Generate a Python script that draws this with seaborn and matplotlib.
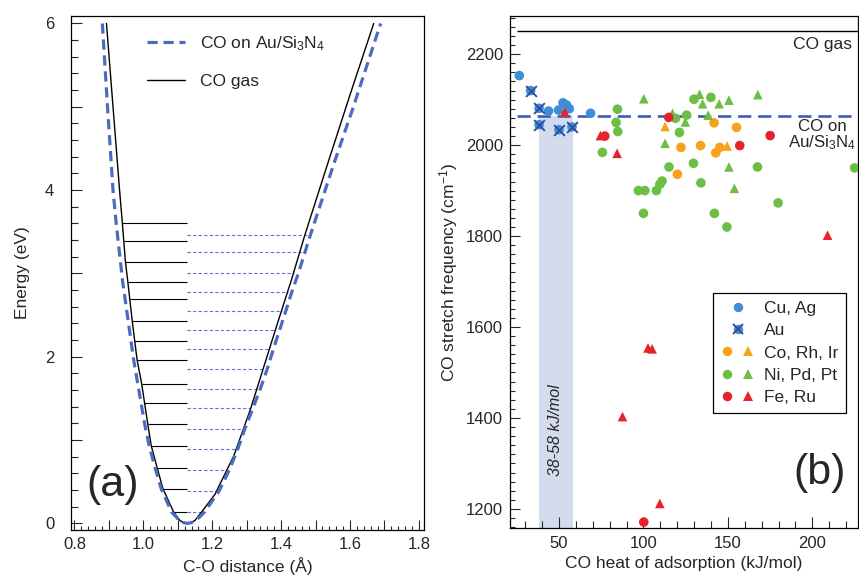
import numpy as np
import pandas as pd
import matplotlib
matplotlib.use("Agg")
import matplotlib.pyplot as plt
import seaborn as sns
from matplotlib.ticker import MultipleLocator, FuncFormatter
from matplotlib.lines import Line2D
from matplotlib.legend_handler import HandlerTuple

# ---------------- data: panel (a) potential curves ----------------
gas_r = [0.893, 0.912, 0.931, 0.939, 0.948, 0.955, 0.968, 0.982, 0.995, 1.013, 1.023,
         1.040, 1.057, 1.088, 1.106, 1.117, 1.128, 1.139, 1.150, 1.170, 1.208, 1.2625,
         1.311, 1.352, 1.390, 1.4305, 1.469, 1.533, 1.602, 1.669]
gas_E = [6.0, 5.0, 4.0, 3.61, 3.14, 2.90, 2.42, 1.96, 1.68, 1.19, 0.93,
         0.67, 0.415, 0.136, 0.035, 0.008, 0.0, 0.008, 0.035, 0.14, 0.348, 0.808,
         1.368, 1.908, 2.407, 2.928, 3.46, 4.288, 5.167, 6.0]

ads_r = [0.881, 0.896, 0.912, 0.921, 0.940, 0.972, 1.004, 1.017, 1.034, 1.052, 1.082,
         1.106, 1.117, 1.128, 1.139, 1.152, 1.178, 1.220, 1.249, 1.274, 1.295, 1.318,
         1.340, 1.360, 1.378, 1.396, 1.414, 1.431, 1.450, 1.485, 1.552, 1.610, 1.689]
ads_E = [6.0, 5.0, 4.0, 3.61, 2.90, 1.96, 1.19, 0.93, 0.67, 0.415, 0.136,
         0.03, 0.008, 0.0, 0.008, 0.03, 0.136, 0.388, 0.636, 0.888, 1.136, 1.38,
         1.616, 1.856, 2.096, 2.324, 2.552, 2.776, 3.0, 3.46, 4.3, 5.0, 6.0]

# vibrational levels
gas_level_E = [0.136, 0.415, 0.667, 0.928, 1.188, 1.44, 1.676, 1.96, 2.188, 2.424,
               2.692, 2.90, 3.14, 3.388, 3.607]
gas_level_rmin = [1.088, 1.057, 1.040, 1.023, 1.013, 1.001, 0.995, 0.982, 0.974, 0.968,
                  0.961, 0.955, 0.948, 0.9435, 0.939]
level_split_r = 1.128
ads_level_E = [0.136, 0.388, 0.636, 0.888, 1.136, 1.38, 1.616, 1.856, 2.096, 2.324,
               2.552, 2.776, 3.0, 3.256, 3.46]
ads_level_rmax = [1.173, 1.214, 1.243, 1.267, 1.286, 1.309, 1.330, 1.349, 1.367, 1.385,
                  1.404, 1.419, 1.437, 1.462, 1.478]

# ---------------- data: panel (b) scatter ----------------
cuag_x = [26.5, 43.8, 49.7, 52.4, 54.5, 56.1, 68.7]
cuag_y = [2153, 2075, 2077, 2093, 2088, 2080, 2070]
au_x = [33.2, 38.2, 38.2, 50.0, 57.7]
au_y = [2120, 2081, 2045, 2034, 2040]
co_circ_x = [120.1, 122.2, 141.8, 155.1, 133.8, 142.8, 145.2]
co_circ_y = [1936, 1995, 2049, 2039, 1999, 1983, 1995]
co_tri_x = [112.8, 149.5]
co_tri_y = [2041, 1998]
ni_circ_x = [75.7, 84.6, 83.8, 84.8, 97.0, 100.8, 100.0, 107.7, 109.7, 111.0, 115.1, 121.3,
             119.0, 125.5, 129.6, 129.9, 139.9, 134.0, 142.0, 149.4, 167.5, 179.7, 225.0]
ni_circ_y = [1984, 2079, 2050, 2030, 1900, 1900, 1850, 1900, 1914, 1921, 1952, 2028,
             2059, 2066, 1960, 2101, 2105, 1917, 1850, 1820, 1952, 1873, 1950]
ni_tri_x = [100.2, 112.8, 117.2, 124.8, 133.2, 135.0, 138.3, 144.8, 150.6, 150.6, 153.8, 167.7]
ni_tri_y = [2102, 2004, 2070, 2051, 2112, 2091, 2066, 2091, 2099, 1952, 1905, 2111]
fe_circ_x = [77.1, 115.0, 157.0, 175.0, 100.2]
fe_circ_y = [2020, 2061, 1999, 2021, 1171]
fe_tri_x = [53.4, 74.5, 84.4, 102.7, 105.1, 87.6, 109.7, 209.0]
fe_tri_y = [2073, 2021, 1982, 1554, 1552, 1403, 1212, 1802]

gas_freq = 2250
ads_freq = 2064
au_range = [38, 58]
legend_labels = ["Cu, Ag", "Au", "Co, Rh, Ir", "Ni, Pd, Pt", "Fe, Ru"]

# ---------------- style ----------------
sns.set_theme(style="ticks")
plt.rcParams["font.family"] = ["Liberation Sans", "DejaVu Sans"]
plt.rcParams["mathtext.fontset"] = "custom"
plt.rcParams["mathtext.rm"] = "Liberation Sans"
plt.rcParams["mathtext.it"] = "Liberation Sans:italic"

c_blue_curve = "#4a6cc0"
c_dash = "#3d5db4"
c_cu = "#3f8dd6"
c_au = "#2f4fa0"
c_or = "#f8a21c"
c_gr = "#6cbf44"
c_rd = "#e8222b"
c_shade = "#d4dbef"

fig = plt.figure(figsize=(8.59, 5.78), dpi=100)
W, H = 859, 578
axa = fig.add_axes([71 / W, (H - 530) / H, (424 - 71) / W, (530 - 16) / H])
axb = fig.add_axes([510 / W, (H - 528) / H, (858 - 510) / W, (528 - 16) / H])

# ---------------- panel (a) ----------------
axa.hlines(gas_level_E, gas_level_rmin, level_split_r, color="black", lw=0.8)
hl = axa.hlines(ads_level_E, level_split_r, ads_level_rmax, color="#5a78c8", lw=0.8)
hl.set_linestyle((0, (3, 2)))

sns.lineplot(x=gas_r, y=gas_E, sort=False, estimator=None, color="black", lw=1.0, ax=axa)
sns.lineplot(x=ads_r, y=ads_E, sort=False, estimator=None, color=c_blue_curve, lw=2.3, ax=axa)
axa.lines[-1].set_dashes([3.2, 1.8])

axa.set_xlim(0.79, 1.815)
axa.set_ylim(-0.08, 6.09)
axa.xaxis.set_major_locator(MultipleLocator(0.1))
axa.xaxis.set_minor_locator(MultipleLocator(0.02))
axa.yaxis.set_major_locator(MultipleLocator(1))
axa.yaxis.set_minor_locator(MultipleLocator(0.2))
axa.xaxis.set_major_formatter(FuncFormatter(
    lambda v, p: f"{v:.1f}" if abs(round(v * 10) % 2) == 0 else ""))
axa.yaxis.set_major_formatter(FuncFormatter(
    lambda v, p: f"{int(round(v))}" if int(round(v)) % 2 == 0 else ""))
axa.tick_params(axis="both", which="both", direction="in", labelsize=12, width=0.8,
                top=False, right=False)
axa.tick_params(axis="y", which="major", length=8, pad=12)
axa.tick_params(axis="y", which="minor", length=4.7)
axa.tick_params(axis="x", which="major", length=7, pad=5)
axa.tick_params(axis="x", which="minor", length=3)
axa.set_xlabel("C-O distance (Å)", fontsize=12.5, labelpad=4)
axa.set_ylabel("Energy (eV)", fontsize=12.5, labelpad=11)
for s in axa.spines.values():
    s.set_linewidth(0.9)
    s.set_color("black")

h1 = Line2D([], [], color=c_blue_curve, lw=2.3, dashes=[3.2, 1.8])
h2 = Line2D([], [], color="black", lw=1.0)
axa.legend([h1, h2], [r"CO on Au/Si$_\mathregular{3}$N$_\mathregular{4}$", "CO gas"],
           loc="upper left", bbox_to_anchor=(0.215, 0.965), frameon=False, fontsize=12.5,
           handlelength=2.2, handletextpad=0.85, labelspacing=1.2, borderpad=0,
           borderaxespad=0)
axa.text(0.912, 0.46, "(a)", fontsize=31, ha="center", va="center")

# ---------------- panel (b) ----------------
axb.fill_between(au_range, 1150, ads_freq, color=c_shade, lw=0, zorder=0)
axb.hlines(gas_freq, 25, 230, color="black", lw=1.0)
hd = axb.hlines(ads_freq, 25, 230, color=c_dash, lw=1.9)
hd.set_linestyle((0, (5, 2.6)))

frames = []
for gx, gy, grp, shp in [
    (cuag_x, cuag_y, "cu", "o"), (au_x, au_y, "au", "o"),
    (co_circ_x, co_circ_y, "co", "o"), (co_tri_x, co_tri_y, "co", "^"),
    (ni_circ_x, ni_circ_y, "ni", "o"), (ni_tri_x, ni_tri_y, "ni", "^"),
    (fe_circ_x, fe_circ_y, "fe", "o"), (fe_tri_x, fe_tri_y, "fe", "^")]:
    frames.append(pd.DataFrame({"x": gx, "y": gy, "group": grp, "shape": shp}))
df = pd.concat(frames, ignore_index=True)
pal = {"cu": c_cu, "au": c_cu, "co": c_or, "ni": c_gr, "fe": c_rd}
sns.scatterplot(data=df, x="x", y="y", hue="group", style="shape",
                markers={"o": "o", "^": "^"}, palette=pal, s=48, linewidth=0,
                legend=False, ax=axb, zorder=3)
sns.scatterplot(x=au_x, y=au_y, marker="x", color=c_au, s=60, linewidth=1.4,
                legend=False, ax=axb, zorder=4)

axb.set_xlim(21, 227)
axb.set_ylim(1158, 2284)
axb.xaxis.set_major_locator(MultipleLocator(50))
axb.xaxis.set_minor_locator(MultipleLocator(10))
axb.yaxis.set_major_locator(MultipleLocator(200))
axb.yaxis.set_minor_locator(MultipleLocator(20))
axb.tick_params(axis="both", which="both", direction="in", labelsize=12, width=0.8,
                top=False, right=False)
axb.tick_params(axis="y", which="major", length=7, pad=5)
axb.tick_params(axis="y", which="minor", length=3.6)
axb.tick_params(axis="x", which="major", length=8, pad=5.5)
axb.tick_params(axis="x", which="minor", length=5)
axb.set_xlabel("CO heat of adsorption (kJ/mol)", fontsize=12.5, labelpad=4)
axb.set_ylabel(r"CO stretch frequency (cm$^\mathregular{-1}$)", fontsize=12.5, labelpad=4)
for s in axb.spines.values():
    s.set_linewidth(0.9)
    s.set_color("black")

axb.text(206, 2222, "CO gas", fontsize=12.5, ha="center", va="center")
axb.text(206, 2021, "CO on\n" + r"Au/Si$_\mathregular{3}$N$_\mathregular{4}$", fontsize=12.2,
         ha="center", va="center", multialignment="center", linespacing=1.0)
axb.text(48, 1374, "38-58 kJ/mol", fontsize=11.5, style="italic", rotation=90,
         ha="center", va="center")
axb.text(204.5, 1278, "(b)", fontsize=31, ha="center", va="center")

ms = 6.8
def mk(m, c):
    return Line2D([], [], marker=m, ls="none", color=c, markersize=ms, markeredgewidth=0)
h_cu = mk("o", c_cu)
h_au = (mk("o", c_cu), Line2D([], [], marker="x", ls="none", color=c_au, markersize=7,
                              markeredgewidth=1.4))
h_co = (mk("o", c_or), mk("^", c_or))
h_ni = (mk("o", c_gr), mk("^", c_gr))
h_fe = (mk("o", c_rd), mk("^", c_rd))
hmap = {h_au: HandlerTuple(ndivide=1), tuple: HandlerTuple(ndivide=None, pad=0.4)}
leg = axb.legend([h_cu, h_au, h_co, h_ni, h_fe], legend_labels, handler_map=hmap,
                 loc="upper left", bbox_to_anchor=(0.5825, 0.4596), borderaxespad=0,
                 fontsize=12.5, frameon=True, fancybox=False, edgecolor="black",
                 framealpha=1, handlelength=2.0, handletextpad=0.5, labelspacing=0.42,
                 borderpad=0.45)
leg.get_frame().set_linewidth(0.9)

fig.savefig("out.png", dpi=100)
